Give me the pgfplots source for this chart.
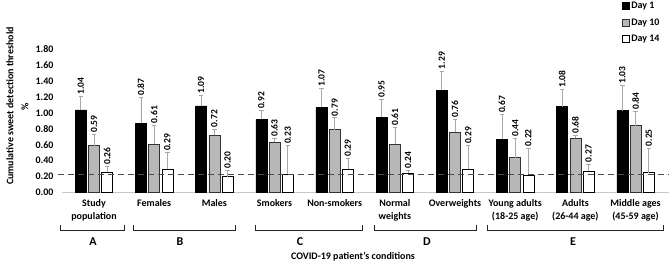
\documentclass[border=0pt]{standalone}
\usepackage{pgfplots}
\pgfplotsset{compat=1.18}
\usepackage{pgfplotstable}
\usepackage{fontspec}
\setmainfont{Carlito}
\definecolor{barg}{HTML}{B8B8B8}
\definecolor{errg}{HTML}{A8A8A8}
\definecolor{basel}{HTML}{C8C8C8}
\pgfplotstableread{
x y err
0 1.04 0.17
1 0.87 0.33
2 1.09 0.13
3 0.92 0.11
4 1.07 0.24
5 0.95 0.22
6 1.29 0.24
7 0.67 0.31
8 1.08 0.22
9 1.03 0.32
}\dayone
\pgfplotstableread{
x y err
0 0.59 0.14
1 0.61 0.24
2 0.72 0.08
3 0.63 0.05
4 0.79 0.15
5 0.61 0.21
6 0.76 0.16
7 0.44 0.24
8 0.68 0.04
9 0.84 0.18
}\dayten
\pgfplotstableread{
x y err
0 0.26 0.07
1 0.29 0.21
2 0.20 0.08
3 0.23 0.36
4 0.29 0.14
5 0.24 0.04
6 0.29 0.30
7 0.22 0.34
8 0.27 0.09
9 0.25 0.31
}\dayfourteen
\pgfplotsset{vals/.style={
  error bars/y dir=plus, error bars/y explicit,
  error bars/error bar style={errg, line width=0.7pt},
  error bars/error mark options={errg, line width=0.7pt, mark size=2.2pt, rotate=90},
  nodes near coords={\pgfmathprintnumber[fixed,fixed zerofill,precision=2]{\pgfplotspointmeta}},
  visualization depends on={\thisrow{err}*79.444 \as \errpt},
  every node near coord/.append style={font=\bfseries\fontsize{9.5}{11}\selectfont, yshift=\errpt pt, rotate=90, anchor=west, inner sep=1.5pt, black},
}}
\begin{document}
\begin{tikzpicture}
\begin{axis}[
  scale only axis, width=607pt, height=143pt,
  xmin=-0.532, xmax=9.556, ymin=0, ymax=1.8,
  clip=false,
  ybar=2.2pt, bar width=11pt,
  axis x line*=bottom, axis y line*=left,
  x axis line style={draw=basel, line width=0.8pt},
  y axis line style={draw=none},
  major tick length=0pt,
  xtick={0,...,9},
  xticklabels={{Study\\population},{Females},{Males},{Smokers},{Non-smokers},{Normal\\weights},{Overweights},{Young adults\\(18-25 age)},{Adults\\(26-44 age)},{Middle ages\\(45-59 age)}},
  xticklabel style={align=center, font=\bfseries\fontsize{10}{13}\selectfont, yshift=-3pt},
  ytick={0,0.2,...,1.81},
  yticklabel style={font=\bfseries\fontsize{10}{12}\selectfont, xshift=-5pt},
  yticklabel={\pgfmathprintnumber[fixed,fixed zerofill,precision=2]{\tick}},
  /pgf/number format/assume math mode=true,
  legend style={at={(rel axis cs:0.988,1.346)}, anchor=north east, draw=none, fill=none,
    font=\bfseries\fontsize{10}{12}\selectfont, row sep=4.5pt, inner sep=0pt},
  legend cell align=left,
  legend image code/.code={\draw[#1, line width=0.6pt] (0pt,-3.5pt) rectangle (7pt,3.5pt);},
]
\addplot[vals, fill=black, draw=black, line width=0.6pt] table[x=x, y=y, y error=err] {\dayone};
\addplot[vals, fill=barg, draw=black!80, line width=0.6pt] table[x=x, y=y, y error=err] {\dayten};
\addplot[vals, fill=white, draw=black, line width=0.6pt] table[x=x, y=y, y error=err] {\dayfourteen};
\legend{Day 1, Day 10, Day 14}
\addplot[sharp plot, black!70, dash pattern=on 6pt off 4pt, line width=1pt, forget plot, bar shift=0pt] coordinates {(-0.6,0.23) (9.556,0.23)};
\end{axis}
% brackets and group letters (pixel mapping: x-62, 192.5-y)
\begin{scope}[line width=0.7pt, black!85]
\foreach \a/\b in {60/124, 133/235, 255/362, 374/476, 487/663}{
  \draw (\a pt-62pt,192.5pt-225pt) -- (\a pt-62pt,192.5pt-230pt) -- (\b pt-62pt,192.5pt-230pt) -- (\b pt-62pt,192.5pt-225pt);
}
\end{scope}
\foreach \x/\l in {93/A, 180/B, 300/C, 427/D, 573/E}{
  \node[font=\bfseries\fontsize{12}{14}\selectfont, inner sep=0pt] at (\x pt-62pt,192.5pt-242pt) {\l};
}
\node[font=\bfseries\fontsize{10}{12}\selectfont, inner sep=0pt] at (353pt-62pt,192.5pt-257pt) {COVID-19 patient's conditions};
\node[font=\bfseries\fontsize{10}{12}\selectfont, inner sep=0pt, rotate=90] at (10pt-62pt,192.5pt-106pt) {Cumulative sweet detection threshold};
\node[font=\bfseries\fontsize{10}{12}\selectfont, inner sep=0pt, rotate=90] at (25pt-62pt,192.5pt-107pt) {\%};
\pgfresetboundingbox
\useasboundingbox (-62pt,-71.5pt) rectangle (607pt,192.5pt);
\end{tikzpicture}
\end{document}
